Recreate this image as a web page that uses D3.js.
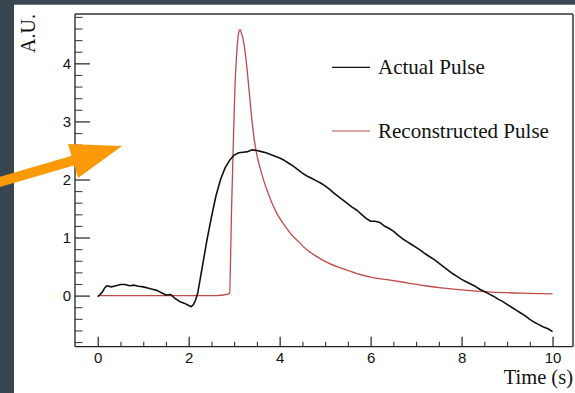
<!DOCTYPE html>
<html>
<head>
<meta charset="utf-8">
<script src="https://cdn.jsdelivr.net/npm/d3@7"></script>
<style>
  html, body { margin: 0; padding: 0; background: #ffffff; }
  svg { display: block; }
</style>
</head>
<body>
<svg id="chart" width="575" height="393"></svg>
<script>
// Measured pulse, time (s) vs amplitude (A.U.)
const actualPulse = [
  [0.0,-0.02],[0.05,0.02],[0.1,0.06],[0.15,0.13],[0.2,0.17],[0.3,0.15],[0.4,0.17],[0.5,0.19],[0.6,0.19],[0.7,0.17],
  [0.8,0.18],[0.9,0.16],[1.0,0.15],[1.1,0.13],[1.2,0.11],[1.3,0.09],[1.4,0.05],[1.5,0.01],
  [1.6,0.02],[1.7,-0.05],[1.8,-0.10],[1.9,-0.13],[2.0,-0.17],[2.05,-0.19],[2.1,-0.16],[2.15,-0.08],
  [2.2,0.05],[2.3,0.5],[2.4,0.95],[2.5,1.35],[2.6,1.72],[2.7,2.0],[2.8,2.2],[2.9,2.33],
  [3.0,2.42],[3.1,2.46],[3.2,2.47],[3.3,2.48],[3.4,2.51],[3.5,2.50],[3.6,2.48],[3.7,2.46],
  [3.8,2.43],[3.9,2.40],[4.0,2.37],[4.1,2.33],[4.2,2.28],[4.3,2.23],[4.4,2.17],[4.5,2.11],
  [4.6,2.06],[4.7,2.02],[4.8,1.98],[4.9,1.94],[5.0,1.89],[5.1,1.83],[5.2,1.76],[5.3,1.70],
  [5.4,1.64],[5.5,1.58],[5.6,1.52],[5.7,1.47],[5.8,1.40],[5.9,1.33],[6.0,1.28],[6.1,1.28],
  [6.2,1.26],[6.3,1.20],[6.4,1.16],[6.5,1.11],[6.6,1.04],[6.7,0.98],[6.8,0.93],[6.9,0.88],
  [7.0,0.83],[7.1,0.78],[7.2,0.72],[7.3,0.67],[7.4,0.62],[7.5,0.56],[7.6,0.50],[7.7,0.44],
  [7.8,0.38],[7.9,0.33],[8.0,0.28],[8.1,0.24],[8.2,0.20],[8.3,0.16],[8.4,0.11],[8.5,0.07],
  [8.6,0.03],[8.7,-0.01],[8.8,-0.06],[8.9,-0.10],[9.0,-0.15],[9.1,-0.20],[9.2,-0.25],[9.3,-0.30],
  [9.4,-0.35],[9.5,-0.41],[9.6,-0.46],[9.7,-0.50],[9.8,-0.54],[9.9,-0.57],[10.0,-0.62]
];

// Reconstructed pulse, time (s) vs amplitude (A.U.)
const reconstructedPulse = [
  [0.0,0.0],[1.0,0.0],[2.0,0.0],[2.6,0.0],[2.85,0.02],[2.9,0.04],[2.92,0.6],[2.94,1.4],
  [2.96,2.0],[2.98,2.6],[3.0,3.15],[3.02,3.65],[3.05,4.1],[3.08,4.42],[3.11,4.56],[3.13,4.58],
  [3.16,4.52],[3.2,4.4],[3.24,4.2],[3.28,3.93],[3.31,3.68],[3.35,3.35],[3.38,3.1],[3.42,2.82],
  [3.46,2.59],[3.51,2.38],[3.57,2.2],[3.65,1.98],[3.75,1.76],[3.85,1.56],[3.95,1.40],[4.1,1.22],
  [4.25,1.06],[4.4,0.94],[4.6,0.79],[4.8,0.68],[5.1,0.55],[5.4,0.46],[5.7,0.38],[6.0,0.32],
  [6.4,0.27],[6.8,0.22],[7.2,0.17],[7.6,0.13],[8.0,0.10],[8.5,0.07],[9.0,0.05],[9.5,0.04],
  [10.0,0.03]
];

const xMajorTicks = [0, 2, 4, 6, 8, 10];
const yMajorTicks = [0, 1, 2, 3, 4];
const legendLabels = ["Actual Pulse", "Reconstructed Pulse"];
const xTitle = "Time (s)";
const yTitle = "A.U.";

const W = 575, H = 393;
const frame = { left: 75, right: 573, top: 14, bottom: 346.7 };
const pulseColor = "#111111";
const recoColor = "#bf4a4a";
const slate = "#374651";
const sans = "Liberation Sans, Arial, sans-serif";
const serif = "Liberation Serif, Times New Roman, serif";

const svg = d3.select("#chart");

// page background: slate strips along the left and top edges
svg.append("rect").attr("x", 0).attr("y", 0).attr("width", W).attr("height", H).attr("fill", "#ffffff");
svg.append("rect").attr("x", 0).attr("y", 0).attr("width", W).attr("height", 4.7).attr("fill", slate);
svg.append("rect").attr("x", 0).attr("y", 0).attr("width", 14).attr("height", H).attr("fill", slate);

const x = d3.scaleLinear().domain([-0.5, 10.45]).range([frame.left, frame.right]);
const y = d3.scaleLinear().domain([-0.88, 4.85]).range([frame.bottom, frame.top]);

// minor tick positions derived from the axis ranges
const xMinor = d3.range(0, 10.01, 0.5).filter(v => !xMajorTicks.some(m => Math.abs(m - v) < 1e-6));
const yMinor = d3.range(-0.8, 4.81, 0.2).map(v => +v.toFixed(1)).filter(v => !yMajorTicks.some(m => Math.abs(m - v) < 1e-6));

// X axis (ticks point inwards)
const xAxis = d3.axisBottom(x).tickValues(xMajorTicks).tickSize(-10).tickPadding(6).tickFormat(d3.format("d"));
const gx = svg.append("g").attr("transform", `translate(0,${frame.bottom})`).call(xAxis);
gx.select(".domain").remove();
gx.selectAll(".tick line").attr("stroke", "#222").attr("stroke-width", 1.2);
gx.selectAll(".tick text").style("font-family", sans).style("font-size", "15px").attr("fill", "#111");
const xMinorAxis = d3.axisBottom(x).tickValues(xMinor).tickSize(-5).tickFormat("");
const gxm = svg.append("g").attr("transform", `translate(0,${frame.bottom})`).call(xMinorAxis);
gxm.select(".domain").remove();
gxm.selectAll(".tick line").attr("stroke", "#333").attr("stroke-width", 1.1);

// Y axis (ticks point inwards)
const yAxis = d3.axisLeft(y).tickValues(yMajorTicks).tickSize(-15).tickPadding(4).tickFormat(d3.format("d"));
const gy = svg.append("g").attr("transform", `translate(${frame.left},0)`).call(yAxis);
gy.select(".domain").remove();
gy.selectAll(".tick line").attr("stroke", "#222").attr("stroke-width", 1.2);
gy.selectAll(".tick text").style("font-family", sans).style("font-size", "15px").attr("fill", "#111");
const yMinorAxis = d3.axisLeft(y).tickValues(yMinor).tickSize(-7.5).tickFormat("");
const gym = svg.append("g").attr("transform", `translate(${frame.left},0)`).call(yMinorAxis);
gym.select(".domain").remove();
gym.selectAll(".tick line").attr("stroke", "#444").attr("stroke-width", 1.1);

// frame
svg.append("line").attr("x1", frame.left).attr("x2", frame.right).attr("y1", frame.bottom).attr("y2", frame.bottom)
  .attr("stroke", "#222").attr("stroke-width", 1.3);
svg.append("line").attr("x1", frame.left).attr("x2", frame.left).attr("y1", frame.top).attr("y2", frame.bottom)
  .attr("stroke", "#222").attr("stroke-width", 1.3);
svg.append("line").attr("x1", frame.left).attr("x2", frame.right).attr("y1", frame.top).attr("y2", frame.top)
  .attr("stroke", "#333").attr("stroke-width", 1.3);
svg.append("line").attr("x1", 573).attr("x2", 573).attr("y1", frame.top).attr("y2", frame.bottom)
  .attr("stroke", "#6a6a6a").attr("stroke-width", 2.2);

// curves
const smooth = d3.line().x(d => x(d[0])).y(d => y(d[1])).curve(d3.curveMonotoneX);
const straight = d3.line().x(d => x(d[0])).y(d => y(d[1]));
svg.append("path").datum(reconstructedPulse).attr("d", smooth)
  .attr("fill", "none").attr("stroke", recoColor).attr("stroke-width", 1.3);
svg.append("path").datum(actualPulse).attr("d", straight)
  .attr("fill", "none").attr("stroke", pulseColor).attr("stroke-width", 1.6).attr("stroke-linejoin", "round");

// legend
const legend = svg.append("g");
[[legendLabels[0], pulseColor, 67.3], [legendLabels[1], recoColor, 131]].forEach(([label, color, ly]) => {
  legend.append("line").attr("x1", 332).attr("x2", 370).attr("y1", ly).attr("y2", ly)
    .attr("stroke", color).attr("stroke-width", 1.2);
  legend.append("text").attr("x", 378).attr("y", ly + 7).text(label)
    .style("font-family", serif).style("font-size", "21px").attr("fill", "#111");
});

// axis titles
svg.append("text").attr("x", 573).attr("y", 384).attr("text-anchor", "end").text(xTitle)
  .style("font-family", serif).style("font-size", "20.5px").attr("fill", "#111");
svg.append("text").attr("transform", "translate(35,14) rotate(-90)").attr("text-anchor", "end").text(yTitle)
  .style("font-family", serif).style("font-size", "20px").attr("fill", "#111");

// orange pointer arrow
svg.append("line").attr("x1", -2).attr("y1", 182.5).attr("x2", 80).attr("y2", 158.5)
  .attr("stroke", "#fb9a06").attr("stroke-width", 10);
svg.append("polygon").attr("points", "68,144 122,146 78,178").attr("fill", "#fb9a06");
</script>
</body>
</html>
